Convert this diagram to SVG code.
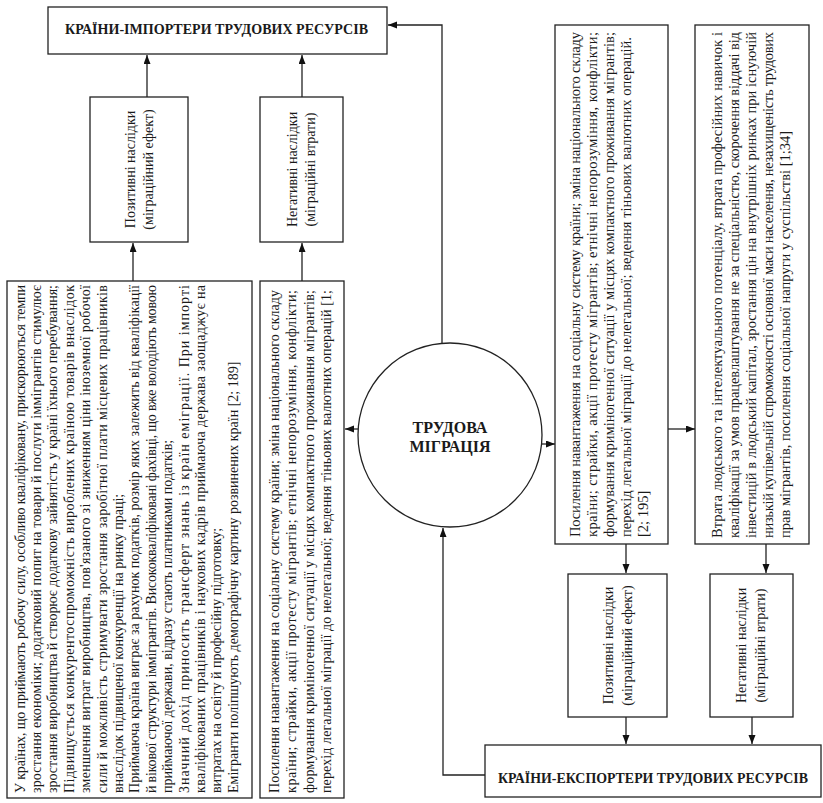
<svg xmlns="http://www.w3.org/2000/svg" width="823" height="803" viewBox="0 0 823 803" font-family="'Liberation Serif', 'Times New Roman', 'DejaVu Serif', serif">
<defs>
<marker id="ah" markerUnits="userSpaceOnUse" markerWidth="10" markerHeight="8" refX="9" refY="3.5" orient="auto">
<path d="M0,0 L9,3.5 L0,7 z" fill="#111"/>
</marker>
<style>
.box{fill:#fff;stroke:#222;stroke-width:1.3}
.ln{fill:none;stroke:#222;stroke-width:1.3}
.arr{fill:none;stroke:#222;stroke-width:1.3;marker-end:url(#ah)}
.t{font-family:'Liberation Serif', 'Times New Roman', 'DejaVu Serif', serif;font-size:14px;fill:#1a1a1a}
.tr{font-family:'Liberation Serif', 'Times New Roman', 'DejaVu Serif', serif;font-size:14.5px;fill:#1a1a1a}
.h{font-family:'Liberation Serif', 'Times New Roman', 'DejaVu Serif', serif;font-size:14px;font-weight:bold;fill:#1a1a1a}
.c{font-family:'Liberation Serif', 'Times New Roman', 'DejaVu Serif', serif;font-size:16px;font-weight:bold;fill:#1a1a1a;text-anchor:middle}
.m{text-anchor:middle}
</style>
</defs>
<rect width="823" height="803" fill="#fff"/>

<g id="connectors">
<polyline class="arr" points="442,343 442,25 388,25"/>
<line class="arr" x1="358" y1="429" x2="345" y2="429"/>
<line class="arr" x1="542" y1="444" x2="555" y2="444"/>
<polyline class="arr" points="485,775 443,775 443,528"/>
<line class="arr" x1="133" y1="281" x2="133" y2="243"/>
<line class="arr" x1="302" y1="281" x2="302" y2="243"/>
<line class="arr" x1="147" y1="97" x2="147" y2="55"/>
<line class="arr" x1="302" y1="97" x2="302" y2="55"/>
<line class="arr" x1="668" y1="429" x2="695" y2="429"/>
<line class="arr" x1="626" y1="544" x2="626" y2="573"/>
<line class="arr" x1="766" y1="544" x2="766" y2="573"/>
<line class="arr" x1="626" y1="717" x2="626" y2="744"/>
<line class="arr" x1="752" y1="717" x2="752" y2="744"/>
</g>

<g id="importers">
<rect class="box" x="48" y="7" width="339" height="47"/>
<text class="h" x="65" y="34" textLength="303" lengthAdjust="spacingAndGlyphs">КРАЇНИ-ІМПОРТЕРИ ТРУДОВИХ РЕСУРСІВ</text>
</g>

<g id="imp-positive">
<rect class="box" x="90" y="97" width="98" height="145"/>
<g transform="translate(0,169.5) rotate(-90)">
<text class="t m" x="0" y="135">Позитивні наслідки</text>
<text class="t m" x="0" y="153">(міграційний ефект)</text>
</g>
</g>

<g id="imp-negative">
<rect class="box" x="260" y="97" width="83" height="145"/>
<g transform="translate(0,169.5) rotate(-90)">
<text class="t m" x="0" y="297">Негативні наслідки</text>
<text class="t m" x="0" y="315">(міграційні втрати)</text>
</g>
</g>

<g id="imp-positive-text">
<rect class="box" x="7" y="281" width="245" height="517"/>
<g transform="translate(0,793) rotate(-90)">
<text class="t" x="0" y="24.5" textLength="508" lengthAdjust="spacing">У країнах, що приймають робочу силу, особливо кваліфіковану, прискорюються темпи</text>
<text class="t" x="0" y="40.9" textLength="508" lengthAdjust="spacing">зростання економіки; додатковий попит на товари й послуги іммігрантів стимулює</text>
<text class="t" x="0" y="57.3" textLength="508" lengthAdjust="spacing">зростання виробництва й створює додаткову зайнятість у країні їхнього перебування;</text>
<text class="t" x="0" y="73.7" textLength="508" lengthAdjust="spacing">Підвищується конкурентоспроможність вироблених країною товарів внаслідок</text>
<text class="t" x="0" y="90.1" textLength="508" lengthAdjust="spacing">зменшення витрат виробництва, пов'язаного зі зниженням ціни іноземної робочої</text>
<text class="t" x="0" y="106.5" textLength="508" lengthAdjust="spacing">сили й можливість стримувати зростання заробітної плати місцевих працівників</text>
<text class="t" x="0" y="122.9">внаслідок підвищеної конкуренції на ринку праці;</text>
<text class="t" x="0" y="139.3" textLength="508" lengthAdjust="spacing">Приймаюча країна виграє за рахунок податків, розмір яких залежить від кваліфікації</text>
<text class="t" x="0" y="155.7" textLength="508" lengthAdjust="spacing">й вікової структури іммігрантів. Висококваліфіковані фахівці, що вже володіють мовою</text>
<text class="t" x="0" y="172.1">приймаючої держави, відразу стають платниками податків;</text>
<text class="t" x="0" y="188.5" textLength="508" lengthAdjust="spacing">Значний дохід приносить трансферт знань із країн еміграції. При імпорті</text>
<text class="t" x="0" y="204.9" textLength="508" lengthAdjust="spacing">кваліфікованих працівників і наукових кадрів приймаюча держава заощаджує на</text>
<text class="t" x="0" y="221.3">витратах на освіту й професійну підготовку;</text>
<text class="t" x="0" y="237.7">Емігранти поліпшують демографічну картину розвинених країн [2; 189]</text>
</g>
</g>

<g id="imp-negative-text">
<rect class="box" x="260" y="281" width="84" height="517"/>
<g transform="translate(0,793) rotate(-90)">
<text class="t" x="0" y="278.5" textLength="503" lengthAdjust="spacing">Посилення навантаження на соціальну систему країни; зміна національного складу</text>
<text class="t" x="0" y="296" textLength="503" lengthAdjust="spacing">країни; страйки, акції протесту мігрантів; етнічні непорозуміння, конфлікти;</text>
<text class="t" x="0" y="313.5" textLength="503" lengthAdjust="spacing">формування криміногенної ситуації у місцях компактного проживання мігрантів;</text>
<text class="t" x="0" y="331" textLength="503" lengthAdjust="spacing">перехід легальної міграції до нелегальної; ведення тіньових валютних операцій [1;</text>
</g>
</g>

<g id="migration">
<circle class="box" cx="450" cy="435" r="92"/>
<text class="c" x="450" y="433">ТРУДОВА</text>
<text class="c" x="450" y="452">МІГРАЦІЯ</text>
</g>

<g id="exp-box1">
<rect class="box" x="555" y="25" width="113" height="519"/>
<g transform="translate(0,537) rotate(-90)">
<text class="tr" x="0" y="579.5" textLength="505" lengthAdjust="spacing">Посилення навантаження на соціальну систему країни; зміна національного складу</text>
<text class="tr" x="0" y="596.5" textLength="505" lengthAdjust="spacing">країни; страйки, акції протесту мігрантів; етнічні непорозуміння, конфлікти;</text>
<text class="tr" x="0" y="613.5" textLength="505" lengthAdjust="spacing">формування криміногенної ситуації у місцях компактного проживання мігрантів;</text>
<text class="tr" x="0" y="630.5" textLength="500" lengthAdjust="spacing">перехід легальної міграції до нелегальної; ведення тіньових валютних операцій.</text>
<text class="tr" x="0" y="647.5">[2; 195]</text>
</g>
</g>

<g id="exp-box2">
<rect class="box" x="695" y="25" width="114" height="519"/>
<g transform="translate(0,538) rotate(-90)">
<text class="tr" x="0" y="721.5" textLength="506" lengthAdjust="spacing">Втрата людського та інтелектуального потенціалу, втрата професійних навичок і</text>
<text class="tr" x="0" y="738.5" textLength="506" lengthAdjust="spacing">кваліфікації за умов працевлаштування не за спеціальністю, скорочення віддачі від</text>
<text class="tr" x="0" y="755.5" textLength="506" lengthAdjust="spacing">інвестицій в людський капітал, зростання цін на внутрішніх ринках при існуючій</text>
<text class="tr" x="0" y="772.5" textLength="506" lengthAdjust="spacing">низькій купівельній спроможності основної маси населення, незахищеність трудових</text>
<text class="tr" x="0" y="789.5">прав мігрантів, посилення соціальної напруги у суспільстві [1;34]</text>
</g>
</g>

<g id="exp-positive">
<rect class="box" x="568" y="574" width="99" height="143"/>
<g transform="translate(0,645.5) rotate(-90)">
<text class="t m" x="0" y="613">Позитивні наслідки</text>
<text class="t m" x="0" y="632">(міграційний ефект)</text>
</g>
</g>

<g id="exp-negative">
<rect class="box" x="710" y="574" width="83" height="143"/>
<g transform="translate(0,645.5) rotate(-90)">
<text class="t m" x="0" y="746">Негативні наслідки</text>
<text class="t m" x="0" y="765">(міграційні втрати)</text>
</g>
</g>

<g id="exporters">
<rect class="box" x="485" y="745" width="336" height="52"/>
<text class="h" x="498" y="783" textLength="310" lengthAdjust="spacingAndGlyphs">КРАЇНИ-ЕКСПОРТЕРИ ТРУДОВИХ РЕСУРСІВ</text>
</g>
</svg>
